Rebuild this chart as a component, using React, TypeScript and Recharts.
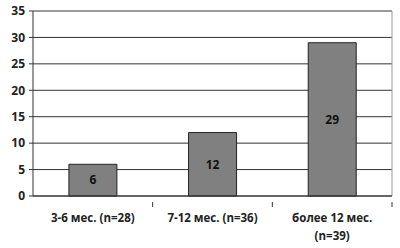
import React from 'react';
import { BarChart, Bar, XAxis, YAxis, CartesianGrid, LabelList } from 'recharts';

const categories = ['3-6 мес. (n=28)', '7-12 мес. (n=36)', 'более 12 мес. (n=39)'];
const values = [6, 12, 29];
const yTicks = [0, 5, 10, 15, 20, 25, 30, 35];

const data = categories.map((name, i) => ({ name, value: values[i] }));

const W = 400;
const H = 248;
const MARGIN = { top: 11, right: 8, left: 0, bottom: 0 };
const Y_WIDTH = 33;
const FONT = '"Open Sans", "Liberation Sans", sans-serif';
const BAND = (W - Y_WIDTH - MARGIN.right) / categories.length;

const XTick = (props: any) => {
  const { x, y, payload } = props;
  const text: string = payload.value;
  // long labels wrap before the "(n=..)" part, as in the original
  const lines = text.length > 17 ? [text.slice(0, text.indexOf('(')).trim(), text.slice(text.indexOf('('))] : [text];
  return (
    <g>
      <line x1={x + BAND / 2} x2={x + BAND / 2} y1={y - 2} y2={y + 3} stroke="#333" />
      <text x={x} y={y + 18} textAnchor="middle" fontSize={11.5} fontWeight={700} fill="#222" fontFamily={FONT}>
        {lines.map((l, i) => (
          <tspan key={i} x={x} dy={i === 0 ? 0 : 18}>{l}</tspan>
        ))}
      </text>
    </g>
  );
};

const App: React.FC = () => {
  return (
    <div style={{ position: 'absolute', top: 0, left: 0, width: W, height: H, background: '#fff' }}>
      <BarChart width={W} height={H} data={data} margin={MARGIN} barCategoryGap="30%">
        <CartesianGrid vertical={false} stroke="#333" />
        <CartesianGrid horizontalPoints={[MARGIN.top]} verticalPoints={[W - MARGIN.right]} stroke="#9a9a9a" />
        <XAxis
          dataKey="name"
          interval={0}
          tickLine={false}
          axisLine={{ stroke: '#333' }}
          tick={<XTick />}
          height={52}
        />
        <YAxis
          domain={[0, 35]}
          ticks={yTicks}
          width={Y_WIDTH}
          tickSize={4}
          tickMargin={4}
          axisLine={{ stroke: '#333' }}
          tickLine={{ stroke: '#333' }}
          tick={{ fontSize: 12, fontWeight: 700, fill: '#222', fontFamily: FONT }}
        />
        <Bar dataKey="value" fill="#808080" stroke="#222" strokeWidth={1} isAnimationActive={false}>
          <LabelList dataKey="value" position="center" fontSize={12} fontWeight={700} fill="#111" fontFamily={FONT} />
        </Bar>
      </BarChart>
    </div>
  );
};

export default App;
